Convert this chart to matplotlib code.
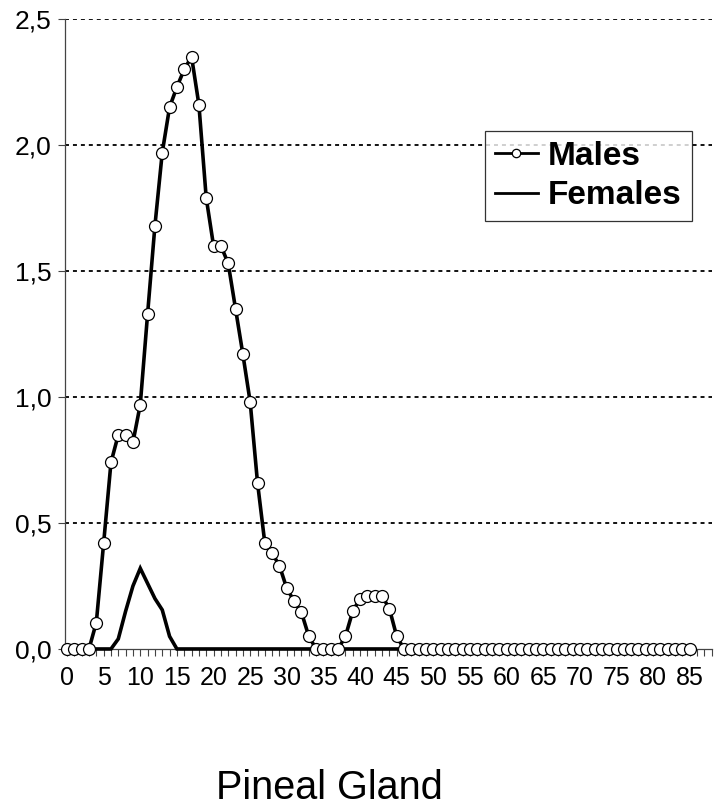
import numpy as np
import matplotlib
matplotlib.use("Agg")
import matplotlib.pyplot as plt
from matplotlib import font_manager
from matplotlib.ticker import MultipleLocator, FuncFormatter

plt.rcParams["font.family"] = ["Liberation Sans", "DejaVu Sans"]

# x positions 0..85
ages = np.arange(0, 86)

males_head = [0, 0, 0, 0, 0.105, 0.42, 0.74, 0.85, 0.85, 0.82,
              0.97, 1.33, 1.68, 1.97, 2.15, 2.23, 2.30, 2.35, 2.16, 1.79,
              1.60, 1.60, 1.53, 1.35, 1.17, 0.98, 0.66, 0.42, 0.38, 0.33,
              0.24, 0.19, 0.145, 0.05, 0, 0, 0, 0, 0.05, 0.15,
              0.20, 0.21, 0.21, 0.21, 0.16, 0.05]
males = males_head + [0] * (len(ages) - len(males_head))

females_head = [0, 0, 0, 0, 0, 0, 0, 0.04, 0.15, 0.25,
                0.32, 0.26, 0.20, 0.155, 0.05, 0]
females = females_head + [0] * (len(ages) - len(females_head))

y_ticks = [0.0, 0.5, 1.0, 1.5, 2.0, 2.5]
x_label = "Pineal Gland"

# narrow face for the crowded x labels, if it is there
installed = {f.name for f in font_manager.fontManager.ttflist}
if "Liberation Sans Narrow" in installed:
    xtick_family, xtick_size = "Liberation Sans Narrow", 20
else:
    xtick_family, xtick_size = "Liberation Sans", 18

fig = plt.figure(figsize=(7.17, 8.10), dpi=100)
ax = fig.add_axes([0.0907, 0.1988, 0.902, 0.7778])

for y in y_ticks[1:]:
    ax.axhline(y, color="black", lw=1.3, ls=(0, (2.2, 2.2)), zorder=1)

ax.plot(ages, females, color="black", lw=2.6, solid_joinstyle="miter",
        clip_on=False, zorder=3, label="Females")
ax.plot(ages, males, color="black", lw=2.6, marker="o", ms=8.6,
        mfc="white", mec="black", mew=0.9, clip_on=False, zorder=4,
        label="Males")

ax.set_xlim(-0.27, 88)
ax.set_ylim(0, 2.5)

ax.set_yticks(y_ticks)
ax.yaxis.set_major_formatter(FuncFormatter(lambda v, p: f"{v:.1f}".replace(".", ",")))
ax.xaxis.set_minor_locator(MultipleLocator(1))
ax.set_xticks(np.arange(0, 86, 5))
ax.tick_params(axis="y", direction="out", length=5, width=0.8, color="#444444",
               labelsize=19, pad=5)
ax.tick_params(axis="x", which="both", direction="out", length=5, width=0.8,
               color="#444444", labelsize=xtick_size, pad=7)
for lbl in ax.get_xticklabels():
    lbl.set_family(xtick_family)

for side in ["top", "right"]:
    ax.spines[side].set_visible(False)
ax.spines["left"].set_color("#444444")
ax.spines["left"].set_linewidth(0.9)
ax.spines["bottom"].set_color("#444444")
ax.spines["bottom"].set_linewidth(0.9)

handles, labels = ax.get_legend_handles_labels()
leg = ax.legend(handles[::-1], labels[::-1], loc="upper left",
                bbox_to_anchor=(0.649, 0.822), borderaxespad=0,
                prop={"weight": "bold", "size": 24}, handlelength=1.3,
                handletextpad=0.3, borderpad=0.3, labelspacing=0.25,
                fancybox=False, frameon=True, markerscale=0.7)
leg.get_frame().set_edgecolor("black")
leg.get_frame().set_linewidth(0.9)
for h in leg.get_lines():
    h.set_linewidth(2.0)

fig.text(0.46, 0.004, x_label, fontsize=28.5, ha="center", va="bottom")

plt.savefig("out.png", dpi=100)
plt.close()
